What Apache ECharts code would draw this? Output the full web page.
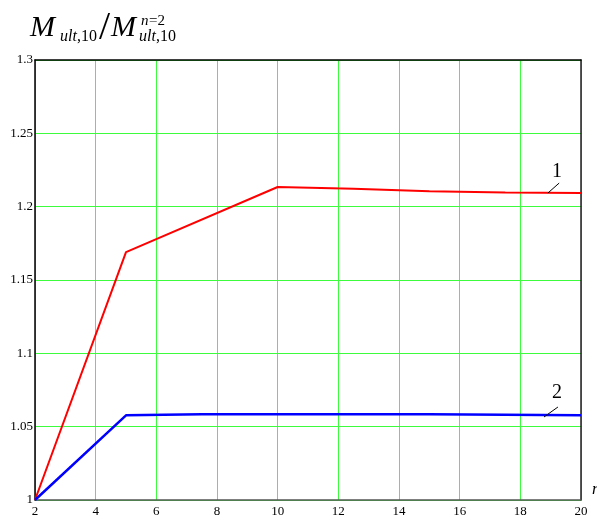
<!DOCTYPE html>
<html><head><meta charset="utf-8">
<script src="https://cdn.jsdelivr.net/npm/echarts@6/dist/echarts.min.js"></script>
<style>html,body{margin:0;padding:0;background:#fff}#c{width:597px;height:516px}</style>
</head><body><div id="c"></div>
<script>
// Data
const nValues1 = [2, 5, 10, 12.5, 15, 17.5, 20];
const ratio1   = [1.0, 1.169, 1.2134, 1.2122, 1.2105, 1.2097, 1.2093];
const nValues2 = [2, 5, 7.5, 15, 20];
const ratio2   = [1.0, 1.0577, 1.0584, 1.0584, 1.0577];
const xTicks = [2, 4, 6, 8, 10, 12, 14, 16, 18, 20];
const yTicks = [1, 1.05, 1.1, 1.15, 1.2, 1.25, 1.3];
const curveLabels = ['1', '2'];
// annotation anchors in data units: [label pos], [leader start], [leader end]
const labelPos1 = [19.21, 1.2236], leader1 = [[18.91, 1.2093], [19.28, 1.2161]];
const labelPos2 = [19.21, 1.0730], leader2 = [[18.78, 1.0566], [19.24, 1.0634]];

const serif = '"Liberation Serif", "DejaVu Serif", serif';
const chart = echarts.init(document.getElementById('c'), null, {renderer: 'canvas'});

function pairs(xs, ys) { return xs.map((x, i) => [x, ys[i]]); }

function annot(lbl, pos, leader) {
  return {
    markPoint: {
      symbol: 'circle', symbolSize: 0, silent: true,
      label: {show: true, formatter: lbl, color: '#000', fontFamily: serif, fontSize: 20, position: 'inside'},
      data: [{coord: pos}]
    },
    markLine: {
      symbol: 'none', silent: true, label: {show: false},
      lineStyle: {color: '#000', width: 1, type: 'solid'},
      data: [[{coord: leader[0]}, {coord: leader[1]}]]
    }
  };
}

const hidden = {axisLabel: {show: false}, axisTick: {show: false}, splitLine: {show: false}};

chart.setOption({
  animation: false,
  backgroundColor: '#fff',
  grid: {left: 35, right: 16, top: 60, bottom: 16, containLabel: false, outerBoundsMode: 'none'},
  xAxis: [{
    type: 'value', min: xTicks[0], max: xTicks[xTicks.length - 1], interval: 2,
    name: 'n', nameLocation: 'end', nameGap: 11,
    nameTextStyle: {fontFamily: serif, fontStyle: 'italic', fontSize: 17, color: '#000', verticalAlign: 'bottom', padding: [0, 0, 2, 0]},
    axisLine: {show: true, lineStyle: {color: '#555', width: 1.5}},
    axisTick: {show: false},
    axisLabel: {fontFamily: serif, fontSize: 13, color: '#000', margin: 5},
    splitLine: {show: true, lineStyle: {color: '#3dfb3d', width: 1}}
  }, Object.assign({
    type: 'value', position: 'top', min: xTicks[0], max: xTicks[xTicks.length - 1], interval: 2,
    axisLine: {show: true, lineStyle: {color: '#000', width: 1.5}}
  }, hidden)],
  yAxis: [{
    type: 'value', min: yTicks[0], max: yTicks[yTicks.length - 1], interval: 0.05,
    axisLine: {show: true, lineStyle: {color: '#000', width: 1.5}},
    axisTick: {show: false},
    axisLabel: {fontFamily: serif, fontSize: 13, color: '#000', margin: 2,
      formatter: v => String(parseFloat(v.toFixed(2)))},
    splitLine: {show: true, lineStyle: {color: '#3dfb3d', width: 1}}
  }, Object.assign({
    type: 'value', position: 'right', min: yTicks[0], max: yTicks[yTicks.length - 1], interval: 0.05,
    axisLine: {show: true, lineStyle: {color: '#222', width: 1.5}}
  }, hidden)],
  series: [
    Object.assign({
      type: 'line', data: pairs(nValues1, ratio1), showSymbol: false,
      lineStyle: {color: '#ff0000', width: 2}, itemStyle: {color: '#ff0000'}, z: 3
    }, annot(curveLabels[0], labelPos1, leader1)),
    Object.assign({
      type: 'line', data: pairs(nValues2, ratio2), showSymbol: false,
      lineStyle: {color: '#0000ff', width: 2.5}, itemStyle: {color: '#0000ff'}, z: 3
    }, annot(curveLabels[1], labelPos2, leader2))
  ],
  graphic: [
    {type: 'text', left: 30, top: 13, style: {text: 'M', font: 'italic 30px ' + serif, fill: '#000'}},
    {type: 'text', left: 60, top: 29, style: {text: 'ult', font: 'italic 16px ' + serif, fill: '#000'}},
    {type: 'text', left: 77, top: 29, style: {text: ',10', font: '16px ' + serif, fill: '#000'}},
    {type: 'text', left: 99, top: 8, style: {text: '/', font: '40px ' + serif, fill: '#000'}},
    {type: 'text', left: 111, top: 13, style: {text: 'M', font: 'italic 30px ' + serif, fill: '#000'}},
    {type: 'text', left: 141, top: 14, style: {text: 'n', font: 'italic 15px ' + serif, fill: '#000'}},
    {type: 'text', left: 149, top: 14, style: {text: '=2', font: '15px ' + serif, fill: '#000'}},
    {type: 'text', left: 139, top: 29, style: {text: 'ult', font: 'italic 16px ' + serif, fill: '#000'}},
    {type: 'text', left: 156, top: 29, style: {text: ',10', font: '16px ' + serif, fill: '#000'}}
  ]
});
</script></body></html>
